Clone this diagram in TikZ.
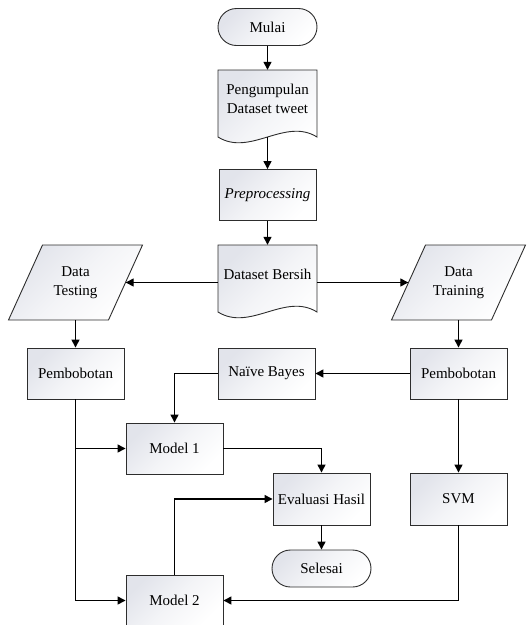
\documentclass[tikz,border=0pt]{standalone}
\usepackage{fontspec}
\setmainfont{Liberation Serif}
\usetikzlibrary{arrows.meta,calc}
\definecolor{shadec}{RGB}{226,228,235}
\definecolor{edgec}{RGB}{45,45,45}
\tikzset{
  txt/.style={font=\fontsize{15}{19}\selectfont, align=center, text=black},
  shadefill/.style={top color=shadec, bottom color=white, middle color=white!60!shadec, shading angle=45},
  outline/.style={draw=edgec, line width=0.9pt},
  procbox/.style={txt, outline, shadefill, rectangle, minimum width=97pt, minimum height=51pt, inner sep=0pt},
  termbox/.style={txt, outline, shadefill, rectangle, rounded corners=18.5pt, minimum width=99pt, minimum height=37pt, inner sep=0pt},
  ghost/.style={rectangle, draw=none, inner sep=0pt},
  conn/.style={draw=black, line width=1.3pt, -{Triangle[length=8pt,width=8pt]}},
  plainconn/.style={draw=black, line width=1.3pt}
}
\begin{document}
\begin{tikzpicture}[x=1pt,y=-1pt]
\useasboundingbox (0,0) rectangle (528,625);

% terminators and process boxes
\node[termbox] (mulai) at (267.5,27) {Mulai};
\node[procbox, font=\fontsize{15}{19}\selectfont\itshape] (pre) at (267.5,195) {Preprocessing};
\node[procbox] (pbl) at (75.5,373.5) {Pembobotan};
\node[procbox] (nb) at (266.5,373.5) {Naïve Bayes};
\node[procbox] (pbr) at (458.5,373.5) {Pembobotan};
\node[procbox] (m1) at (174.5,448.5) {Model 1};
\node[procbox, minimum height=52pt] (ev) at (321.5,499) {Evaluasi Hasil};
\node[procbox, minimum height=52pt] (svm) at (458.5,499) {SVM};
\node[procbox] (m2) at (174.5,600.5) {Model 2};
\node[termbox] (sel) at (321.5,568.5) {Selesai};

% document shapes
\path[outline, shadefill] (218,70) -- (317,70) -- (317,137)
  .. controls (285,117) and (250,157) .. (218,137) -- cycle;
\node[ghost, minimum width=99pt, minimum height=67pt] (pg) at (267.5,103.5) {};
\node[txt] at (267.5,98.5) {Pengumpulan\\Dataset tweet};

\path[outline, shadefill] (218,245) -- (317,245) -- (317,312)
  .. controls (285,292) and (250,332) .. (218,312) -- cycle;
\node[ghost, minimum width=99pt, minimum height=75pt] (db) at (267.5,282.5) {};
\node[txt] at (267.5,274) {Dataset Bersih};

% data (parallelograms)
\path[outline, shadefill] (42.5,245) -- (142.5,245) -- (108.5,320) -- (8.5,320) -- cycle;
\node[ghost, minimum width=100pt, minimum height=75pt] (dt) at (75.5,282.5) {};
\node[txt] at (75.5,282.5) {Data\\Testing};

\path[outline, shadefill] (425.5,245) -- (525.5,245) -- (491.5,320) -- (391.5,320) -- cycle;
\node[ghost, minimum width=100pt, minimum height=75pt] (dtr) at (458.5,282.5) {};
\node[txt] at (458.5,282.5) {Data\\Training};

% connectors
\draw[conn] (mulai.south) -- (pg.north);
\draw[conn] (pg.south) -- (pre.north);
\draw[conn] (pre.south) -- (db.north);
\draw[conn] (db.west) -- (dt.east);
\draw[conn] (db.east) -- (dtr.west);
\draw[conn] (dt.south) -- (pbl.north);
\draw[conn] (dtr.south) -- (pbr.north);
\draw[conn] (pbr.west) -- (nb.east);
\draw[conn] (nb.west) -| (m1.north);
\draw[conn] (pbl.south) |- (m2.west);
\draw[conn] (pbl.south |- m1.west) -- (m1.west);
\draw[conn] (m1.east) -| (ev.north);
\draw[conn] (m2.north) |- (ev.west);
\draw[conn] (ev.south) -- (sel.north);
\draw[conn] (pbr.south) -- (svm.north);
\draw[conn] (svm.south) |- (m2.east);
\end{tikzpicture}
\end{document}
